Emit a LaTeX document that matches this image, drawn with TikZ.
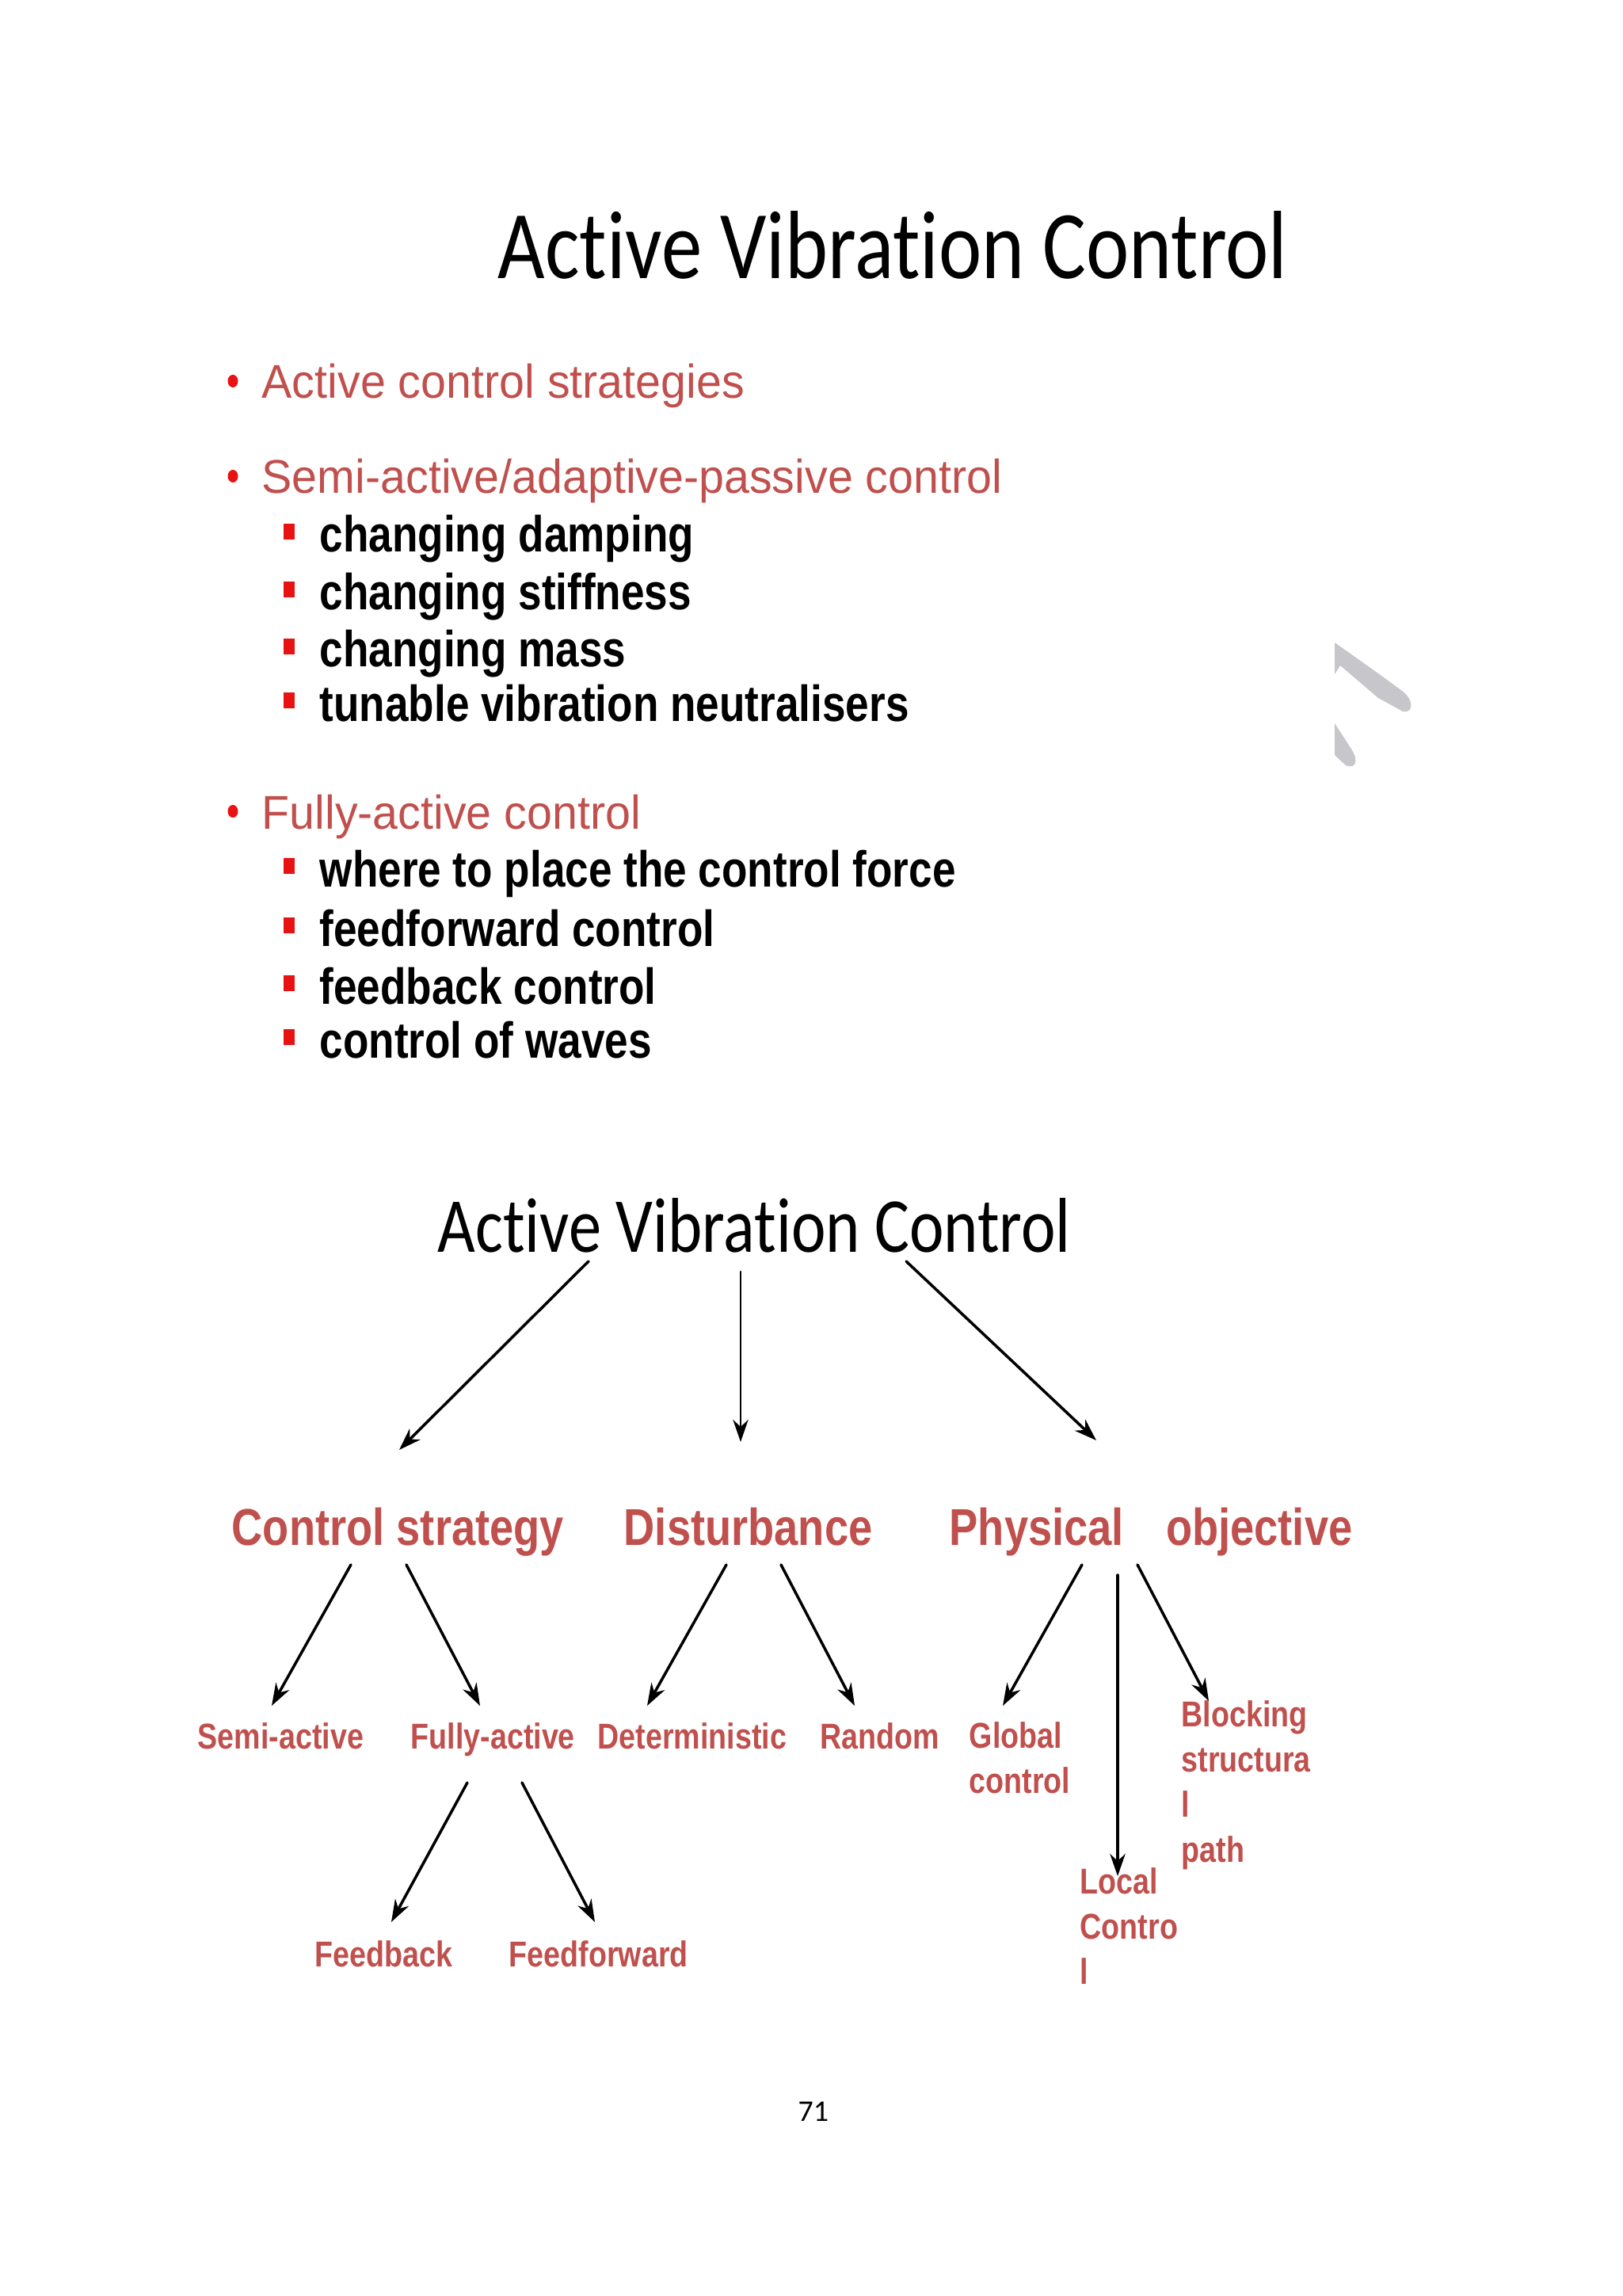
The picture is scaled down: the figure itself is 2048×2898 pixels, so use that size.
\documentclass[tikz,border=0pt]{standalone}
\usepackage{fontspec}
\setmainfont{Liberation Sans}
\newfontfamily\avctitle[FakeStretch=0.84, Ligatures=NoCommon, Contextuals=NoAlternate]{Carlito}
\newfontfamily\avcbody[FakeStretch=0.96]{Liberation Sans}
\newfontfamily\avcitem[FakeStretch=0.83]{Liberation Sans}
\newfontfamily\avclabel[FakeStretch=0.83]{Liberation Sans}
\newfontfamily\avcpage{Carlito}
\usepackage{xcolor}
\usepackage{tikz}
\usetikzlibrary{arrows.meta}
\definecolor{avcred}{RGB}{192,80,77}
\definecolor{avcbullet}{RGB}{232,18,18}
\definecolor{avcgray}{RGB}{198,198,203}

\tikzset{
  ttl/.style={anchor=base west, inner sep=0pt},
  lvone/.style={anchor=base west, inner sep=0pt, text=avcred, font=\avcbody\fontsize{17pt}{20pt}\selectfont},
  lvtwo/.style={anchor=base west, inner sep=0pt, text=black, font=\avcitem\bfseries\fontsize{18.2pt}{21pt}\selectfont},
  lvtop/.style={anchor=base west, inner sep=0pt, text=avcred, font=\avclabel\bfseries\fontsize{18.6pt}{22pt}\selectfont},
  lvsub/.style={anchor=base west, inner sep=0pt, text=avcred, font=\avclabel\bfseries\fontsize{12.9pt}{16.2pt}\selectfont},
  arr/.style={line width=1pt, -{Stealth[length=8pt,width=5.5pt]}}
}

\begin{document}
\begin{tikzpicture}[x=0.01cm, y=-0.01cm, line cap=round, line join=round]
  \path[use as bounding box] (0,0) rectangle (2048,2898);

  % Heading
  \node[ttl, font=\avctitle\fontsize{34.8pt}{40pt}\selectfont] (head) at (628,352) {Active Vibration Control};

  % Main bullets
  \foreach \nm/\yy/\txt in {strat/503/{Active control strategies}, adapt/623/{Semi-active/adaptive-passive control}, full/1046/{Fully-active control}} {
    \node[lvone] (\nm) at (330,\yy) {\txt};
    \fill[avcbullet] ([shift={(-36,-22)}]\nm.base west) ellipse [x radius=0.065cm, y radius=0.08cm];
  }

  % Sub bullets
  \foreach \nm/\yy/\txt in {damp/697/changing damping, stiff/770/changing stiffness, mass/842/changing mass, tune/910/tunable vibration neutralisers, place/1119/where to place the control force, ffwd/1194/feedforward control, fbk/1267/feedback control, wave/1335/control of waves} {
    \node[lvtwo] (\nm) at (403,\yy) {\txt};
    \fill[avcbullet] ([shift={(-45,-36)}]\nm.base west) rectangle +(14,20);
  }

  % Grey marks at the right
  \fill[avcgray] (1685,811) -- (1740,850) -- (1770,872)
    .. controls (1786,884) and (1784,901) .. (1771,898) -- (1740,881) -- (1692,840) -- (1685,851) -- cycle;
  \fill[avcgray] (1685,913) -- (1707,947)
    .. controls (1716,962) and (1710,971) .. (1699,966) -- (1685,953) -- cycle;

  % Tree
  \node[ttl, font=\avctitle\fontsize{27.9pt}{32pt}\selectfont] (avc) at (552,1580) {Active Vibration Control};

  \node[lvtop] (cs) at (292,1950) {Control strategy};
  \node[lvtop] (dist) at (787,1950) {Disturbance};
  \node[lvtop] (phys) at (1198,1950) {Physical\hspace{0.53cm}objective};

  \node[lvsub] (semi) at (249,2207) {Semi-active};
  \node[lvsub] (fully) at (518,2207) {Fully-active};
  \node[lvsub] (det) at (754,2207) {Deterministic};
  \node[lvsub] (rand) at (1035,2207) {Random};
  % multi-line labels sit on their last line
  \node[lvsub, align=left] (glob) at (1223,2263) {Global\\control};
  \node[lvsub, align=left] (block) at (1491,2350) {Blocking\\structura\\l\\path};
  \node[lvsub, align=left] (local) at (1363,2504) {Local\\Contro\\l};

  \node[lvsub] (fb) at (397,2482) {Feedback};
  \node[lvsub] (ff) at (642,2482) {Feedforward};

  % Connectors
  \draw[arr] ([shift={(191,12)}]avc.base west) -- ([shift={(212,-120)}]cs.base west);
  \draw[arr, line width=0.7pt] ([shift={(383,25)}]avc.base west) -- ([shift={(148,-130)}]dist.base west);
  \draw[arr] ([shift={(592,12)}]avc.base west) -- ([shift={(186,-132)}]phys.base west);

  \foreach \a/\as/\b/\bs in {cs/{151,25}/semi/{94,-54}, cs/{221,25}/fully/{88,-54},
      dist/{130,25}/det/{63,-54}, dist/{199,25}/rand/{44,-54},
      phys/{168,25}/glob/{43,-110}, phys/{213,38}/local/{48,-136}, phys/{238,25}/block/{35,-203},
      fully/{72,43}/fb/{97,-56}, fully/{141,43}/ff/{109,-56}} {
    \draw[arr] ([shift={(\as)}]\a.base west) -- ([shift={(\bs)}]\b.base west);
  }

  % Page number
  \node[ttl, font=\avcpage\fontsize{10.8pt}{13pt}\selectfont] (pg) at (1007,2677) {71};
\end{tikzpicture}
\end{document}
